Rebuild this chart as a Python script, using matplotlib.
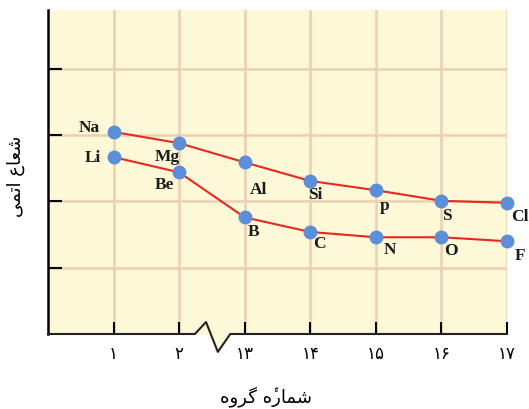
import numpy as np
import matplotlib.pyplot as plt

# group numbers (Persian digits)
groups = ['۱', '۲', '۱۳', '۱۴', '۱۵', '۱۶', '۱۷']

period3 = ['Na', 'Mg', 'Al', 'Si', 'p', 'S', 'Cl']
radius3 = [3.05, 2.88, 2.59, 2.31, 2.17, 2.01, 1.98]

period2 = ['Li', 'Be', 'B', 'C', 'N', 'O', 'F']
radius2 = [2.67, 2.44, 1.76, 1.54, 1.46, 1.46, 1.40]

# label offsets in pixels (dx, dy)
off3 = [(-24, 5), (-12, -13), (14, -27), (5, -13), (9, -15), (5, -14), (13, -13)]
off2 = [(-21, 0), (-15, -12), (9, -14), (9, -11), (14, -12), (10, -13), (13, -14)]

bg = '#fcf8d8'
gridc = '#ecd0b2'
red = '#e8281f'
blue = '#5b8fd8'

fig = plt.figure(figsize=(5.29, 4.10), dpi=100)
ax = fig.add_axes([48 / 529, 1 - 335 / 410, 459 / 529, 324 / 410])
ax.set_facecolor(bg)

x = np.arange(len(groups))
ax.set_xlim(-1, 6)
ax.set_ylim(0, 4.89)

ax.set_xticks(x)
ax.set_xticklabels(groups, fontsize=12, family='DejaVu Sans')
ax.set_yticks([1, 2, 3, 4])
ax.set_yticklabels([])
ax.tick_params(axis='x', direction='in', length=8.5, width=1.5, pad=7)
ax.tick_params(axis='y', direction='in', length=10, width=1.5)
ax.grid(True, color=gridc, linewidth=1.8, zorder=0)
ax.set_axisbelow(True)

for s in ['top', 'right', 'bottom']:
    ax.spines[s].set_visible(False)
ax.spines['left'].set_linewidth(1.8)

# broken bottom axis
zx = [-1, 1.24, 1.41, 1.59, 1.78, 6]
zy = [0, 0, 0.18, -0.27, 0, 0]
ax.fill(zx[1:5], zy[1:5], color=bg, clip_on=False, zorder=1)
ax.plot(zx, zy, color='#222222', lw=1.5, clip_on=False, zorder=3)

ax.plot(x, radius3, color=red, lw=1.5, marker='o', ms=9, mfc=blue, mec=blue,
        clip_on=False, zorder=4)
ax.plot(x, radius2, color=red, lw=1.5, marker='o', ms=9, mfc=blue, mec=blue,
        clip_on=False, zorder=4)

for names, vals, offs in [(period3, radius3, off3), (period2, radius2, off2)]:
    for i, (n, v, o) in enumerate(zip(names, vals, offs)):
        ax.annotate(n, (i, v), xytext=o, textcoords='offset pixels',
                    ha='center', va='center', fontsize=12.5, fontweight='bold',
                    family='Liberation Serif', color='#1a1a1a',
                    annotation_clip=False)

# Persian labels in shaped presentation forms, visual order
ylab = '\uFEF0\uFEE4\uFE97\uFE8D \uFEC9\uFE8E\uFECC\uFEB7'
xlab = '\uFEE9\uFEED\uFEAE\uFB94 \uFEE9\u0654\uFEAD\uFE8E\uFEE4\uFEB7'
fig.text(16 / 529, 1 - 176 / 410, ylab, rotation=90, ha='center', va='center',
         fontsize=13, family='DejaVu Sans')
fig.text(266 / 529, 1 - 397 / 410, xlab, ha='center', va='center',
         fontsize=13, family='DejaVu Sans')

fig.savefig('out.png', dpi=100)
